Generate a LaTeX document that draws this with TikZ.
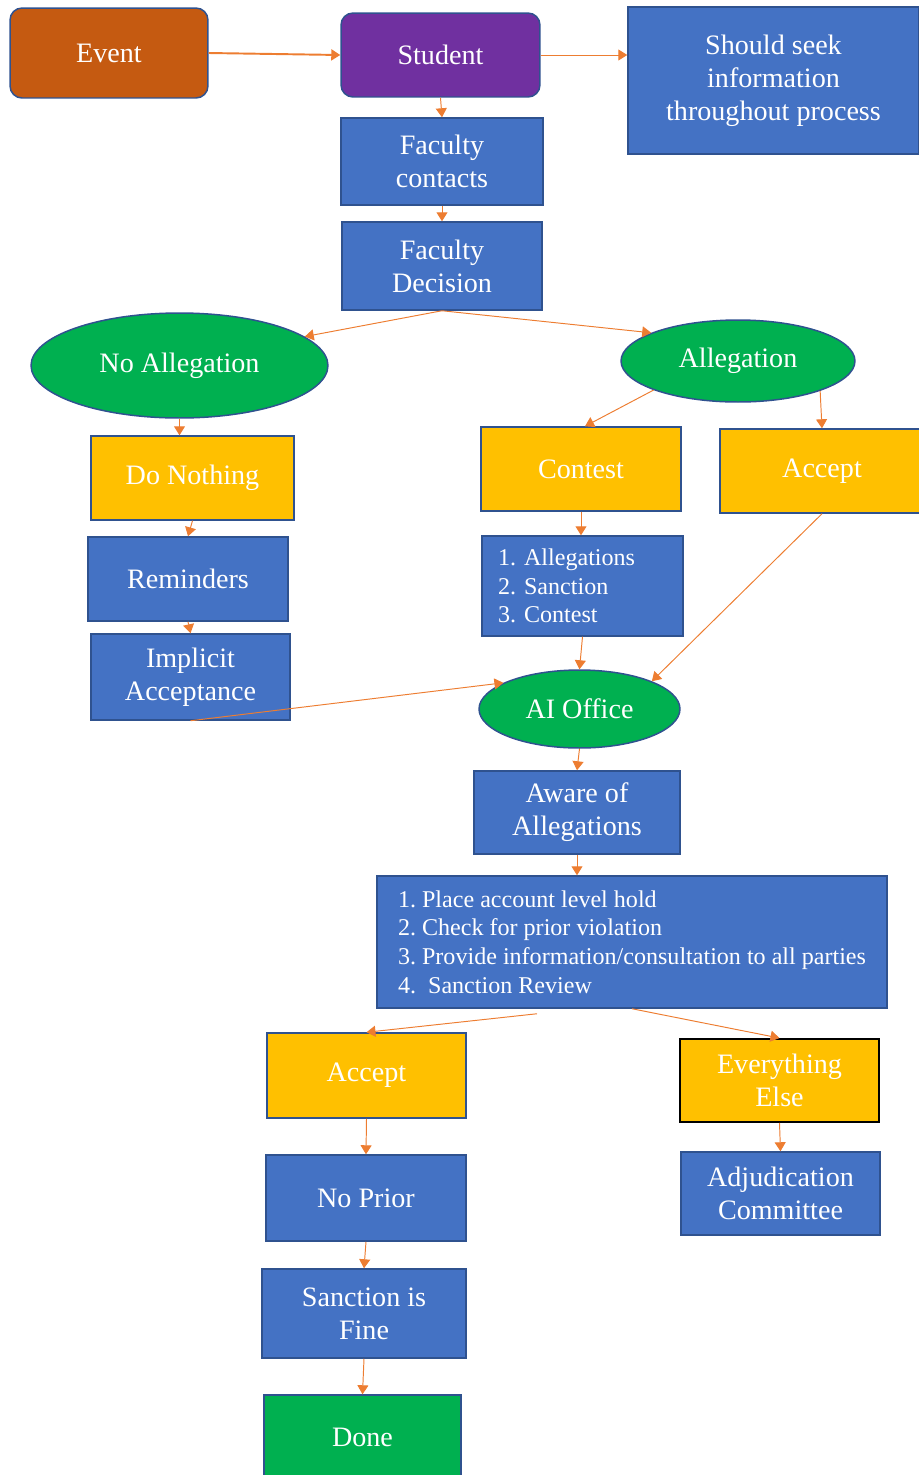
\documentclass[tikz,border=0pt]{standalone}
\usepackage{fontspec}
\setmainfont{Liberation Serif}
\usetikzlibrary{shapes.geometric,arrows.meta}
\frenchspacing

\definecolor{boxblue}{HTML}{4472C4}
\definecolor{boxline}{HTML}{2F528F}
\definecolor{boxgold}{HTML}{FFC000}
\definecolor{boxgreen}{HTML}{00B050}
\definecolor{boxrust}{HTML}{C55A11}
\definecolor{boxpurple}{HTML}{7030A0}
\definecolor{linkorange}{HTML}{ED7D31}

\newcommand{\bigtext}{\fontsize{16}{18.7}\selectfont}
\newcommand{\listtext}{\fontsize{13.7}{16.3}\selectfont}

\tikzset{
    block/.style={draw=boxline, line width=0.85pt, fill=#1, text=white,
        align=center, font=\bigtext, inner sep=0pt,
        minimum width=4cm, minimum height=1.7cm},
    block/.default=boxblue,
    roundblock/.style={block=#1, rounded corners=0.24cm},
    oval/.style={block=boxgreen, ellipse},
    listblock/.style={block, font=\listtext, align=left, inner xsep=0.32cm},
    link/.style={draw=linkorange, line width=0.55pt,
        -{Triangle[width=0.22cm,length=0.18cm]}}
}

\begin{document}
\begin{tikzpicture}[x=0.02cm, y=-0.02cm]
    \useasboundingbox (0,0) rectangle (919,1475);

    % Haut
    \node[roundblock=boxrust, minimum width=3.96cm, minimum height=1.8cm] (event) at (109,53) {Event};
    \node[roundblock=boxpurple, minimum width=3.98cm, minimum height=1.68cm] (student) at (440.5,55) {Student};
    \node[block, minimum width=5.82cm, minimum height=2.94cm] (seek) at (773.5,80.5) {Should seek\\information\\throughout process};
    \node[block, minimum width=4.04cm, minimum height=1.74cm] (faccont) at (442,161.5) {Faculty\\contacts};
    \node[block, minimum height=1.76cm] (facdec) at (442,266) {Faculty\\Decision};

    % Decision
    \node[oval, minimum width=5.94cm, minimum height=2.1cm] (noalleg) at (179.5,365.5) {No Allegation};
    \node[oval, minimum width=4.68cm, minimum height=1.64cm] (alleg) at (738,361) {Allegation};

    % Branche gauche
    \node[block=boxgold, minimum width=4.06cm, minimum height=1.68cm] (donothing) at (192.5,478) {Do Nothing};
    \node[block, minimum height=1.68cm] (reminders) at (188,579) {Reminders};
    \node[block, minimum width=3.98cm, minimum height=1.72cm] (implicit) at (190.5,677) {Implicit\\Acceptance};

    % Branche droite
    \node[block=boxgold, minimum height=1.68cm] (contest) at (581,469) {Contest};
    \node[block=boxgold, minimum width=4.08cm, minimum height=1.68cm] (accepttop) at (822,471) {Accept};
    \node[listblock, minimum width=4.02cm, minimum height=2cm, text width=3.38cm] (alllist) at (582.5,586) {1. Allegations\\2. Sanction\\3. Contest};

    % Bureau AI
    \node[oval, minimum width=4.02cm, minimum height=1.56cm] (aioffice) at (579.5,709) {AI Office};
    \node[block, minimum width=4.12cm, minimum height=1.66cm] (aware) at (577,812.5) {Aware of\\Allegations};
    \node[listblock, minimum width=10.2cm, minimum height=2.64cm] (biglist) at (632,942) {1. Place account level hold\\2. Check for prior violation\\3. Provide information/consultation to all parties\\4.\ \ Sanction Review};

    % Fin
    \node[block=boxgold, minimum width=3.98cm, minimum height=1.7cm] (acceptlow) at (366.5,1075.5) {Accept};
    \node[block=boxgold, draw=black, line width=1.1pt, minimum width=3.98cm, minimum height=1.66cm] (evelse) at (779.5,1080.5) {Everything\\Else};
    \node[block, minimum height=1.72cm] (noprior) at (366,1198) {No Prior};
    \node[block, minimum width=3.98cm, minimum height=1.66cm] (adjud) at (780.5,1193.5) {Adjudication\\Committee};
    \node[block, minimum width=4.08cm, minimum height=1.78cm] (sanction) at (364,1313.5) {Sanction is\\Fine};
    \node[block=boxgreen, minimum width=3.94cm, minimum height=1.68cm] (done) at (362.5,1437) {Done};

    % Fleches
    \draw[link, line width=1.1pt] (event.east) -- (student.west);
    \draw[link] (student.east) -- (student.east -| seek.west);
    \draw[link] (student.south) -- (faccont.north);
    \draw[link] (faccont.south) -- (facdec.north);
    \draw[link] (facdec.south) -- (noalleg.13);
    \draw[link] (facdec.south) -- (alleg.162);
    \draw[link] (noalleg.south) -- (noalleg.south |- donothing.north);
    \draw[link] (donothing.south) -- (reminders.north);
    \draw[link] (reminders.south) -- (implicit.north);
    \draw[link] (alleg.199) -- ([xshift=0.08cm]contest.north);
    \draw[link] (alleg.-20) -- (accepttop.north);
    \draw[link] (contest.south) -- (alllist.north -| contest.south);
    \draw[link] (alllist.south) -- (aioffice.north);
    \draw[link] (implicit.south) -- (aioffice.161);
    \draw[link] (accepttop.south) -- (aioffice.21);
    \draw[link] (aioffice.south) -- (aware.north);
    \draw[link] (aware.south) -- (aware.south |- biglist.north);
    \draw[link] ([xshift=-1.9cm,yshift=-0.1cm]biglist.south) -- (acceptlow.north);
    \draw[link] (biglist.south) -- (evelse.north);
    \draw[link] (acceptlow.south) -- (noprior.north);
    \draw[link] (evelse.south) -- (adjud.north);
    \draw[link] (noprior.south) -- (sanction.north);
    \draw[link] (sanction.south) -- (done.north);
\end{tikzpicture}
\end{document}
